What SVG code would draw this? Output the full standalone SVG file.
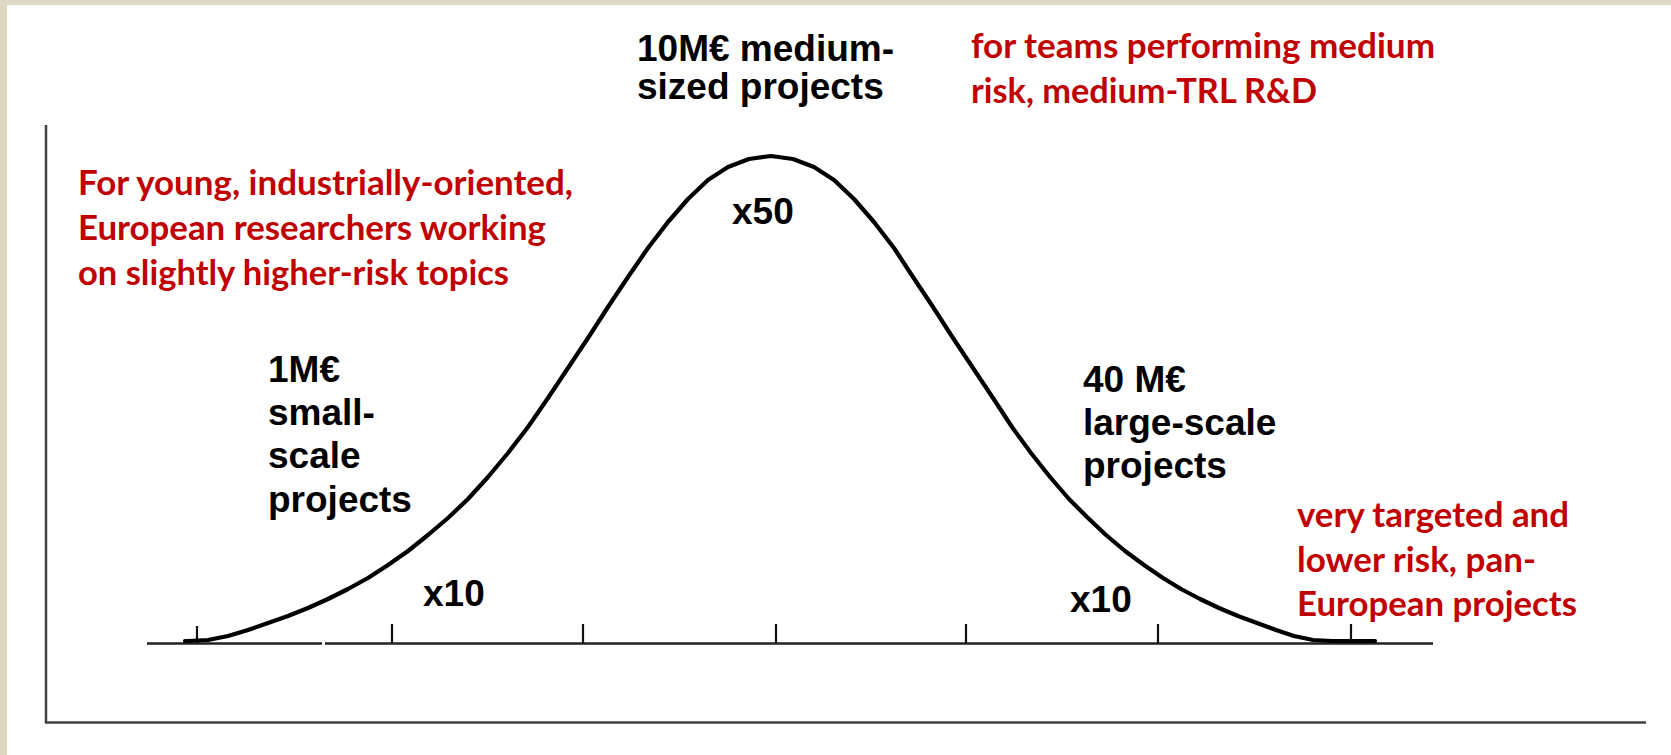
<svg xmlns="http://www.w3.org/2000/svg" width="1671" height="755" viewBox="0 0 1671 755">
<style>
.blk{font-family:"Liberation Sans",Arial,sans-serif;font-weight:bold;font-size:37px;fill:#000}
.red{font-family:Lato,"Open Sans",sans-serif;font-weight:bold;font-size:34px;fill:#C00000}
.axis{stroke:#404040;stroke-width:2.5;fill:none}
.base{stroke:#222;stroke-width:2.5;fill:none}
.tick{stroke:#111;stroke-width:2.2;fill:none}
.curve{stroke:#000;stroke-width:4.2;fill:none;stroke-linejoin:round;stroke-linecap:round}
</style>
<rect x="0" y="0" width="1671" height="755" fill="#DDD8C2"/>
<rect x="7" y="5" width="1664" height="750" fill="#FFFFFF"/>
<g id="axes">
<line class="axis" x1="46" y1="125" x2="46" y2="723"/>
<line class="axis" x1="45" y1="722.5" x2="1646" y2="722.5"/>
</g>
<g id="baseline">
<line class="base" x1="147" y1="643.5" x2="322" y2="643.5"/>
<line class="base" x1="325" y1="643.5" x2="1433" y2="643.5"/>
<line class="tick" x1="197" y1="626" x2="197" y2="643"/>
<line class="tick" x1="392" y1="624" x2="392" y2="643"/>
<line class="tick" x1="583" y1="624" x2="583" y2="643"/>
<line class="tick" x1="776" y1="624" x2="776" y2="643"/>
<line class="tick" x1="966" y1="624" x2="966" y2="643"/>
<line class="tick" x1="1158" y1="624" x2="1158" y2="643"/>
<line class="tick" x1="1351" y1="624" x2="1351" y2="643"/>
</g>
<g id="curve">
<path class="curve" d="M185,641 L188,641 L208,640 L228,636 L248,630 L268,623 L288,616 L308,608 L328,599 L348,589 L368,578 L388,565 L408,551 L428,535 L448,518 L468,499 L488,477 L508,453 L528,427 L548,398 L568,368 L588,338 L608,307 L628,277 L648,248 L668,222 L688,199 L708,180 L728,167 L749,159 L771,156 L793,159 L814,167 L834,180 L854,199 L874,222 L894,248 L913,277 L933,307 L953,338 L973,368 L993,398 L1012,427 L1031,453 L1050,477 L1069,499 L1088,518 L1106,535 L1125,551 L1144,565 L1163,578 L1181,589 L1200,599 L1219,608 L1238,616 L1257,623 L1276,630 L1294,636 L1313,640 L1332,641 L1375,641"/>
</g>
<g id="label-medium">
<text class="blk" x="637" y="61">10M€ medium-</text>
<text class="blk" x="637" y="99">sized projects</text>
<text class="blk" x="732" y="224">x50</text>
</g>
<g id="label-small">
<text class="blk" x="268" y="382">1M€</text>
<text class="blk" x="268" y="425">small-</text>
<text class="blk" x="268" y="468">scale</text>
<text class="blk" x="268" y="512">projects</text>
<text class="blk" x="423" y="606">x10</text>
</g>
<g id="label-large">
<text class="blk" x="1083" y="392">40 M€</text>
<text class="blk" x="1083" y="435">large-scale</text>
<text class="blk" x="1083" y="478">projects</text>
<text class="blk" x="1070" y="612">x10</text>
</g>
<g id="note-left">
<text class="red" x="78" y="195" textLength="495" lengthAdjust="spacingAndGlyphs">For young, industrially-oriented,</text>
<text class="red" x="78" y="240" textLength="468" lengthAdjust="spacingAndGlyphs">European researchers working</text>
<text class="red" x="78" y="285" textLength="431" lengthAdjust="spacingAndGlyphs">on slightly higher-risk topics</text>
</g>
<g id="note-top">
<text class="red" x="971" y="58" textLength="464" lengthAdjust="spacingAndGlyphs">for teams performing medium</text>
<text class="red" x="971" y="103" textLength="346" lengthAdjust="spacingAndGlyphs">risk, medium-TRL R&amp;D</text>
</g>
<g id="note-right">
<text class="red" x="1297" y="527" textLength="272" lengthAdjust="spacingAndGlyphs">very targeted and</text>
<text class="red" x="1297" y="572" textLength="239" lengthAdjust="spacingAndGlyphs">lower risk, pan-</text>
<text class="red" x="1297" y="616" textLength="280" lengthAdjust="spacingAndGlyphs">European projects</text>
</g>
</svg>
